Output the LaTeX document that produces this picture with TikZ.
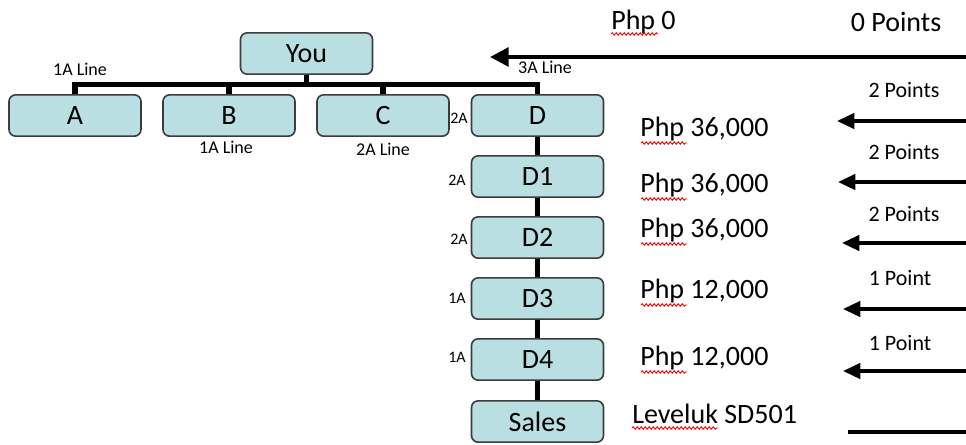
\documentclass[tikz,border=0pt]{standalone}
\usepackage{fontspec}
\setmainfont{Carlito}
\usetikzlibrary{arrows.meta,decorations.pathmorphing}
\definecolor{boxfill}{RGB}{185,223,226}
\definecolor{boxline}{RGB}{60,60,60}

\begin{document}
\begin{tikzpicture}[x=0.75pt,y=-0.75pt]
    \tikzset{%
      member/.style={draw=boxline, fill=boxfill, rounded corners=5pt,
        line width=1.2pt, minimum width=99pt, minimum height=31pt,
        inner sep=0pt, font=\fontsize{21}{24}\selectfont},
      bar/.style={line width=4pt},
      linelbl/.style={inner sep=0pt, font=\fontsize{13.5}{15}\selectfont},
      sidelbl/.style={inner sep=0pt, font=\fontsize{12}{14}\selectfont},
      amount/.style={anchor=west, inner sep=0pt, font=\fontsize{21}{24}\selectfont},
      points/.style={inner sep=0pt, font=\fontsize{16.5}{19}\selectfont},
      feed/.style={line width=2.6pt, -{Triangle[length=13pt, width=11.5pt]}},
      spell/.style={red, line width=0.7pt, decorate,
        decoration={snake, amplitude=0.9pt, segment length=3pt}},
    }
    \useasboundingbox (0,0) rectangle (966,444);

    % the tree
    \node[member] (You) at (306.5,53.5) {You};
    \node[member] (A) at (75,115.5) {A};
    \node[member] (B) at (229,115.5) {B};
    \node[member] (C) at (383,115.5) {C};
    \node[member] (D) at (537.5,115.5) {D};
    \node[member] (D1) at (537.5,176.5) {D1};
    \node[member] (D2) at (537.5,237.5) {D2};
    \node[member] (D3) at (537.5,298.5) {D3};
    \node[member] (D4) at (537.5,359.5) {D4};
    \node[member] (Sales) at (537.5,421.5) {Sales};

    \coordinate (bus) at (306.5,84.5);
    \draw [bar] (You.south) -- (You.south |- bus);
    \draw [bar] (A.north) -- (A.north |- bus) -- (D.north |- bus) -- (D.north);
    \draw [bar] (B.north) -- (B.north |- bus);
    \draw [bar] (C.north) -- (C.north |- bus);
    \draw [bar] (D.south) -- (D1.north);
    \draw [bar] (D1.south) -- (D2.north);
    \draw [bar] (D2.south) -- (D3.north);
    \draw [bar] (D3.south) -- (D4.north);
    \draw [bar] (D4.south) -- (Sales.north);

    \node[linelbl] (LA) at (80,69) {1A Line};
    \node[linelbl] (LB) at (226,147) {1A Line};
    \node[linelbl] (LC) at (383,149) {2A Line};
    \node[linelbl] (LD) at (545,67) {3A Line};

    \node[sidelbl] (SD) at (459,118) {2A};
    \node[sidelbl] (SD1) at (457,180) {2A};
    \node[sidelbl] (SD2) at (459,239) {2A};
    \node[sidelbl] (SD3) at (457,298) {1A};
    \node[sidelbl] (SD4) at (457,357) {1A};

    % amounts
    \node[amount] (P0) at (611,22) {Php 0};
    \node[amount] (P1) at (640,129) {Php 36,000};
    \node[amount] (P2) at (640,185) {Php 36,000};
    \node[amount] (P3) at (640,230) {Php 36,000};
    \node[amount] (P4) at (640,291) {Php 12,000};
    \node[amount] (P5) at (640,358) {Php 12,000};
    \node[amount] (P6) at (632,414) {Leveluk SD501};

    \draw [spell] (611,34) -- (658,34);
    \draw [spell] (641,143) -- (687,143);
    \draw [spell] (641,199) -- (687,199);
    \draw [spell] (641,244) -- (687,244);
    \draw [spell] (641,305) -- (687,305);
    \draw [spell] (641,372) -- (687,372);
    \draw [spell] (632,428) -- (718,428);

    % points and arrows
    \node[points, font=\fontsize{21}{24}\selectfont] (T0) at (896,22) {0 Points};
    \node[points] (T1) at (904,90) {2 Points};
    \node[points] (T2) at (904,152) {2 Points};
    \node[points] (T3) at (904,214) {2 Points};
    \node[points] (T4) at (900,278) {1 Point};
    \node[points] (T5) at (900,343) {1 Point};

    \coordinate (R0) at (966,57);   \coordinate (H0) at (490,57);
    \coordinate (R1) at (966,121);  \coordinate (H1) at (837,121);
    \coordinate (R2) at (966,182);  \coordinate (H2) at (838,182);
    \coordinate (R3) at (966,243);  \coordinate (H3) at (842,243);
    \coordinate (R4) at (966,309);  \coordinate (H4) at (843,309);
    \coordinate (R5) at (966,371);  \coordinate (H5) at (843,371);
    \coordinate (R6) at (966,432);  \coordinate (H6) at (848,432);

    \draw [feed, line width=3pt, -{Triangle[length=14pt, width=14pt]}] (R0) -- (H0);
    \draw [feed] (R1) -- (H1);
    \draw [feed] (R2) -- (H2);
    \draw [feed] (R3) -- (H3);
    \draw [feed] (R4) -- (H4);
    \draw [feed] (R5) -- (H5);
    \draw [line width=2.6pt] (R6) -- (H6);
\end{tikzpicture}
\end{document}
